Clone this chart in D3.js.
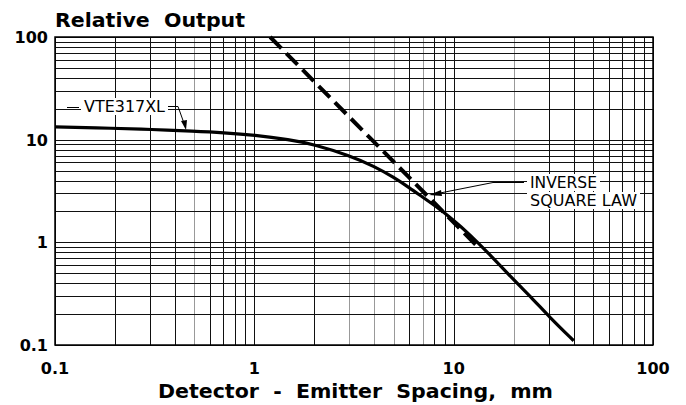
<!DOCTYPE html>
<html><head><meta charset="utf-8">
<script src="https://cdn.jsdelivr.net/npm/d3@7"></script>
<style>body{margin:0;background:#fff}svg{display:block}</style>
</head><body>
<svg id="c" width="686" height="405"></svg>
<script>
// Data
const vteX = [0.1, 0.2, 0.3, 0.5, 0.7, 1, 1.5, 2, 3, 4, 5, 6, 7, 8, 10, 12, 15, 20, 25, 30, 40];
const vteY = [13.3, 12.9, 12.6, 12.1, 11.7, 11.1, 10.0, 9.0, 7.0, 5.5, 4.3, 3.4, 2.75, 2.3, 1.65, 1.2, 0.78, 0.43, 0.28, 0.19, 0.11];
const invX = [1.2, 13];
const invY = [100, 0.935];
const xTicks = [0.1, 1, 10, 100];
const yTicks = [0.1, 1, 10, 100];
const xTickLabels = ["0.1", "1", "10", "100"];
const yTickLabels = ["0.1", "1", "10", "100"];
const greyX = [0.5, 3, 4, 5, 7, 20];

const svg = d3.select("#c");
const L = 55, R = 653, T = 37, B = 345;
const x = d3.scaleLog().domain([0.1, 100]).range([L, R]);
const y = d3.scaleLog().domain([0.1, 100]).range([B, T]);

const gridVals = [];
[0.1, 1, 10].forEach(d => { for (let k = 1; k <= 9; k++) gridVals.push(+(d * k).toPrecision(3)); });
gridVals.push(100);

const g = svg.append("g");
g.selectAll("line.v").data(gridVals).join("line")
  .attr("x1", d => Math.round(x(d)) + 0.5).attr("x2", d => Math.round(x(d)) + 0.5)
  .attr("y1", T).attr("y2", B)
  .attr("stroke", d => greyX.includes(d) ? "#999" : "#111").attr("stroke-width", 1);
g.selectAll("line.h").data(gridVals).join("line")
  .attr("y1", d => Math.round(y(d)) + 0.5).attr("y2", d => Math.round(y(d)) + 0.5)
  .attr("x1", L).attr("x2", R)
  .attr("stroke", "#111").attr("stroke-width", 1);

// border
svg.append("rect").attr("x", L).attr("y", T).attr("width", R - L).attr("height", B - T)
  .attr("fill", "none").attr("stroke", "#000").attr("stroke-width", 1.5);

// curves
const line = d3.line().x(d => x(d[0])).y(d => y(d[1])).curve(d3.curveBasis);
const pts = vteX.map((v, i) => [v, vteY[i]]);
svg.append("path").datum([pts[0], ...pts, pts[pts.length - 1]]).attr("d", line)
  .attr("fill", "none").attr("stroke", "#000").attr("stroke-width", 3.2);
svg.append("path").datum(invX.map((v, i) => [v, invY[i]])).attr("d", d3.line().x(d => x(d[0])).y(d => y(d[1])))
  .attr("fill", "none").attr("stroke", "#000").attr("stroke-width", 4).attr("stroke-dasharray", "16,7");

// annotation boxes
const font = "'DejaVu Sans', sans-serif";
function label(txt, tx, ty, w) {
  svg.append("rect").attr("x", tx - 3).attr("y", ty - 14).attr("width", w + 6).attr("height", 17).attr("fill", "#fff");
  svg.append("text").attr("x", tx).attr("y", ty).text(txt)
    .attr("font-family", "'DejaVu Sans', sans-serif").attr("font-size", 15)
    .attr("textLength", w).attr("lengthAdjust", "spacingAndGlyphs").attr("fill", "#000");
}
label("VTE317XL", 84, 112, 81);
label("INVERSE", 530, 188, 67);
label("SQUARE LAW", 530, 206, 107);

// leaders
const ld = "#000";
svg.append("line").attr("x1", 67).attr("x2", 79).attr("y1", 107.5).attr("y2", 107.5).attr("stroke", ld);
svg.append("polyline").attr("points", "168,106.5 178,106.5 185,126").attr("fill", "none").attr("stroke", ld);
svg.append("path").attr("d", "M186,130 L181,121 L187,120 Z").attr("fill", "#000");
svg.append("polyline").attr("points", "524,182.5 493,182.5 440,193").attr("fill", "none").attr("stroke", ld);
svg.append("path").attr("d", "M429,195 L441,190 L442,196 Z").attr("fill", "#000");

// tick labels
svg.selectAll("text.yt").data(yTicks).join("text")
  .attr("x", 48).attr("y", d => y(d) + 6).attr("text-anchor", "end")
  .attr("font-family", font).attr("font-weight", "bold").attr("font-size", 16)
  .text((d, i) => yTickLabels[i]);
svg.selectAll("text.xt").data(xTicks).join("text")
  .attr("x", d => x(d)).attr("y", 374).attr("text-anchor", "middle")
  .attr("font-family", font).attr("font-weight", "bold").attr("font-size", 16)
  .text((d, i) => xTickLabels[i]);

// titles
svg.append("text").attr("x", 55).attr("y", 27).text("Relative  Output")
  .attr("font-family", font).attr("font-weight", "bold").attr("font-size", 20)
  .attr("textLength", 190).attr("lengthAdjust", "spacingAndGlyphs").style("white-space", "pre");
svg.append("text").attr("x", 158).attr("y", 398).text("Detector  -  Emitter  Spacing,  mm")
  .attr("font-family", font).attr("font-weight", "bold").attr("font-size", 20)
  .attr("textLength", 395).attr("lengthAdjust", "spacingAndGlyphs").style("white-space", "pre");
</script>
</body></html>
